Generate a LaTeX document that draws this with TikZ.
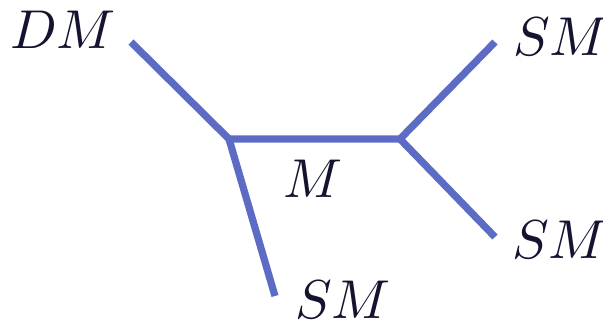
\documentclass[tikz,border=0pt]{standalone}
\definecolor{edgeblue}{RGB}{92,108,197}
\definecolor{labelink}{RGB}{20,20,48}
\begin{document}
\begin{tikzpicture}[x=0.2pt,y=-0.2pt,
  edge/.style={draw=edgeblue,line width=1.45pt},
  lbl/.style={anchor=base,inner sep=0pt,text=labelink,font=\fontsize{10.6}{12}\selectfont}]
\useasboundingbox (0,0) rectangle (603,322);
\coordinate (A) at (229,139);
\coordinate (B) at (400,139);
\coordinate (dm) at (131,42);
\coordinate (sm1) at (495,42);
\coordinate (sm2) at (495,237);
\coordinate (sm3) at (275,296);
\draw[edge] (dm) -- (A) -- (B) -- (sm1);
\draw[edge] (A) -- (sm3);
\draw[edge] (B) -- (sm2);
\node[lbl] (tdm) at (63,48) {$DM$};
\node[lbl] (tsm1) at (561,55) {$SM$};
\node[lbl] (tsm2) at (560,258) {$SM$};
\node[lbl] (tm) at (313,197) {$M$};
\node[lbl] (tsm3) at (343,318) {$SM$};
\end{tikzpicture}
\end{document}
